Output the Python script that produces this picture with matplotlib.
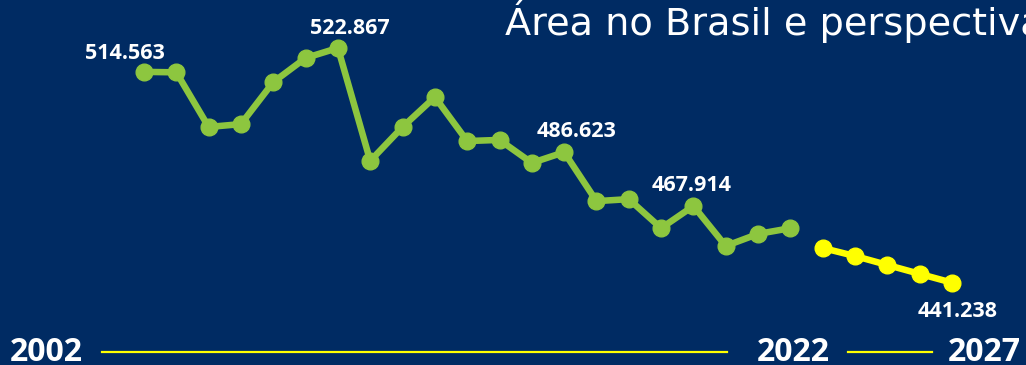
#!/usr/bin/env python3
"""Area in Brazil 2002-2022 with projection to 2027."""

import matplotlib
matplotlib.use('Agg')
import matplotlib.pyplot as plt
from matplotlib.lines import Line2D

BG = '#002b63'
GREEN = '#8dc63f'
YELLOW = '#ffff00'

hist_years = list(range(2002, 2023))
hist_values = [514.563, 514.4, 495.4, 496.4, 511.0, 519.4, 522.867, 483.6,
               495.4, 505.8, 490.5, 490.9, 482.9, 486.623, 469.6, 470.3,
               460.2, 467.914, 454.0, 458.2, 460.2]
proj_years = list(range(2023, 2028))
proj_values = [453.3, 450.5, 447.4, 444.3, 441.238]

# labelled points: year -> (text, offset in pixels)
labels = {
    2002: ('514.563', (-19, 13)),
    2008: ('522.867', (12, 14)),
    2015: ('486.623', (12, 15)),
    2019: ('467.914', (-2, 15)),
    2027: ('441.238', (6, -34)),
}
axis_years = ['2002', '2022', '2027']
title = 'Área no Brasil e perspectivas'

W, H = 1026, 365
fig = plt.figure(figsize=(W / 100, H / 100), dpi=100)
fig.patch.set_facecolor(BG)
ax = fig.add_axes([0, 0, 1, 1])
ax.set_facecolor(BG)
ax.axis('off')

px_per_year = (952 - 144) / 25
ax.set_xlim(2002 - 144 / px_per_year, 2002 + (W - 144) / px_per_year)
px_per_unit = 2.875
ax.set_ylim(522.867 - (H - 48) / px_per_unit, 522.867 + 48 / px_per_unit)

ax.plot(hist_years, hist_values, color=GREEN, lw=4.7, marker='o',
        markersize=12, solid_capstyle='round')
ax.plot(proj_years, proj_values, color=YELLOW, lw=4.7, marker='o',
        markersize=12, solid_capstyle='round')

all_years = hist_years + proj_years
all_values = hist_values + proj_values
for yr, (txt, off) in labels.items():
    val = all_values[all_years.index(yr)]
    ax.annotate(txt, (yr, val), xytext=off, textcoords='offset pixels',
                ha='center', va='baseline', color='white', fontsize=15.5,
                fontweight='bold', family='Open Sans')

# title runs off the right edge, as in the original slide
fig.text(505 / W, 1 - 35 / H, title, color='white', fontsize=27.5,
         family='DejaVu Sans', ha='left', va='baseline')

# bottom timeline
for xc, txt in zip([46, 793, 984], axis_years):
    fig.text(xc / W, 1 - 361 / H, txt, color='white', fontsize=23,
             fontweight='bold', family='Open Sans', ha='center', va='baseline')
for x0, x1 in [(102, 727), (848, 932)]:
    fig.add_artist(Line2D([x0 / W, x1 / W], [1 - 352 / H, 1 - 352 / H],
                          color=YELLOW, lw=1.6))

fig.savefig('out.png', dpi=100, facecolor=BG)
